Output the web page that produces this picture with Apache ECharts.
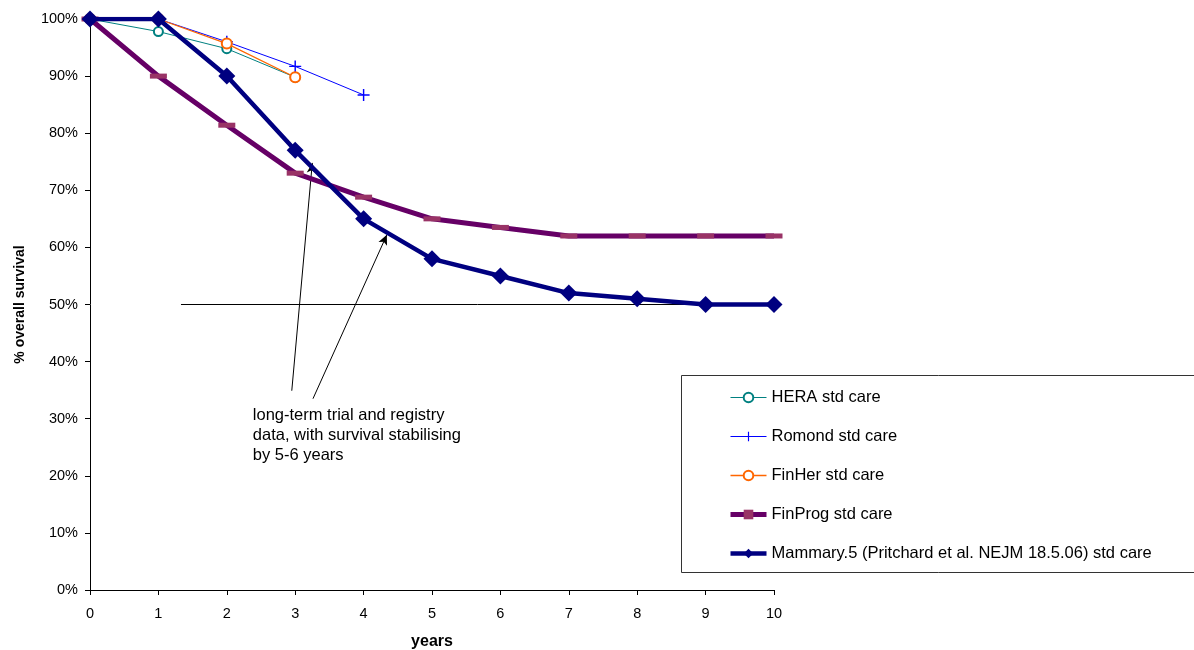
<!DOCTYPE html>
<html>
<head>
<meta charset="utf-8">
<script src="https://cdn.jsdelivr.net/npm/echarts@6/dist/echarts.min.js"></script>
<style>
  html, body { margin: 0; padding: 0; background: #fff; }
  #chart { width: 1194px; height: 650px; }
</style>
</head>
<body>
<div id="chart"></div>
<script>
// Years since diagnosis and overall survival (%) per study arm
const years = [0, 1, 2, 3, 4, 5, 6, 7, 8, 9, 10];
const heraSurvival = [100, 97.8, 94.8, 89.8];
const romondSurvival = [100, 100, 96.0, 91.7, 86.7];
const finHerSurvival = [100, 100, 95.7, 89.8];
const finProgSurvival = [100, 90.0, 81.4, 73.0, 68.8, 65.0, 63.5, 62.0, 62.0, 62.0, 62.0];
const mammarySurvival = [100, 100, 90.0, 77.0, 65.0, 58.0, 55.0, 52.0, 51.0, 50.0, 50.0];
const yTicks = [0, 10, 20, 30, 40, 50, 60, 70, 80, 90, 100];

// 50% reference line and the two annotation arrows (data coordinates)
const refLine = [[1.33, 50], [10, 50]];
const arrows = [
  [[2.95, 34.9], [3.25, 74.8]],
  [[3.26, 33.5], [4.34, 62.2]]
];
const noteLines = ['long-term trial and registry', 'data, with survival stabilising', 'by 5-6 years'];
const noteAnchor = [2.38, 32.4];

const pair = (vals) => vals.map((v, i) => [years[i], v]);
const FONT = '"Liberation Sans", Arial, sans-serif';
const plusPath = 'path://M4.4,0h1.2v4.4h4.4v1.2h-4.4v4.4h-1.2v-4.4h-4.4v-1.2h4.4z';

const seriesNames = ['HERA std care', 'Romond std care', 'FinHer std care', 'FinProg std care',
                     'Mammary.5 (Pritchard et al. NEJM 18.5.06) std care'];
const legendLineWidths = [1, 1, 1.3, 5, 4.5];

const chart = echarts.init(document.getElementById('chart'), null, { renderer: 'canvas' });

const option = {
  animation: false,
  textStyle: { fontFamily: FONT, color: '#000' },
  grid: { left: 90, top: 19, right: 420, bottom: 60, containLabel: false, outerBoundsMode: 'none' },
  legend: {
    orient: 'vertical',
    left: 728,
    top: 389,
    padding: 0,
    itemWidth: 36,
    itemHeight: 12,
    itemGap: 22,
    textStyle: { fontFamily: FONT, fontSize: 16.5, color: '#000' },
    data: seriesNames.map((name, i) => ({ name, lineStyle: { width: legendLineWidths[i] } }))
  },
  xAxis: {
    type: 'value', min: 0, max: 10, interval: 1,
    name: 'years', nameLocation: 'middle', nameGap: 44,
    nameTextStyle: { fontFamily: FONT, fontSize: 16, fontWeight: 'bold', color: '#000' },
    axisLine: { onZero: false, lineStyle: { color: '#000', width: 1 } },
    axisTick: { show: true, length: 5, lineStyle: { color: '#000' } },
    axisLabel: { fontFamily: FONT, fontSize: 14.5, color: '#000', margin: 16 },
    splitLine: { show: false }
  },
  yAxis: {
    type: 'value', min: 0, max: 100, interval: 10,
    name: '% overall survival', nameLocation: 'middle', nameGap: 63, nameRotate: 90,
    nameTextStyle: { fontFamily: FONT, fontSize: 14, fontWeight: 'bold', color: '#000' },
    axisLine: { show: true, lineStyle: { color: '#000', width: 1 } },
    axisTick: { show: true, length: 5, lineStyle: { color: '#000' } },
    axisLabel: {
      fontFamily: FONT, fontSize: 14.5, color: '#000', margin: 12,
      formatter: (v) => (yTicks.includes(v) ? v + '%' : '')
    },
    splitLine: { show: false }
  },
  series: [
    {
      name: 'reference',
      type: 'line',
      data: refLine,
      symbol: 'none',
      lineStyle: { color: '#000', width: 1 },
      silent: true,
      z: 1
    },
    {
      name: seriesNames[0],
      type: 'line',
      data: pair(heraSurvival),
      symbol: 'emptyCircle', symbolSize: 9,
      itemStyle: { color: '#008080', borderWidth: 1 },
      lineStyle: { color: '#008080', width: 1 },
      z: 2
    },
    {
      name: seriesNames[1],
      type: 'line',
      data: pair(romondSurvival),
      symbol: plusPath, symbolSize: 12,
      itemStyle: { color: '#0000ff' },
      lineStyle: { color: '#0000ff', width: 1 },
      z: 3
    },
    {
      name: seriesNames[2],
      type: 'line',
      data: pair(finHerSurvival),
      symbol: 'emptyCircle', symbolSize: 10,
      itemStyle: { color: '#ff6600', borderWidth: 1.3 },
      lineStyle: { color: '#ff6600', width: 1.3 },
      z: 4
    },
    {
      name: seriesNames[3],
      type: 'line',
      data: pair(finProgSurvival),
      symbol: 'rect', symbolSize: [17, 5],
      itemStyle: { color: '#993366' },
      lineStyle: { color: '#660066', width: 5 },
      z: 5
    },
    {
      name: seriesNames[4],
      type: 'line',
      data: pair(mammarySurvival),
      symbol: 'diamond', symbolSize: 17,
      itemStyle: { color: '#000080' },
      lineStyle: { color: '#000080', width: 4.5 },
      z: 6
    },
    {
      name: 'arrows',
      type: 'line',
      data: [],
      silent: true,
      z: 10,
      markLine: {
        silent: true,
        symbol: ['none', 'arrow'],
        symbolSize: [7, 10],
        label: { show: false },
        lineStyle: { color: '#000', width: 1, type: 'solid' },
        data: arrows.map(([a, b]) => [{ coord: a }, { coord: b }])
      }
    }
  ]
};

chart.setOption(option);

// Annotation text and legend frame
const anchor = chart.convertToPixel({ gridIndex: 0 }, noteAnchor);
chart.setOption({
  graphic: [
    {
      type: 'rect',
      shape: { x: 681.5, y: 375.5, width: 600, height: 197 },
      style: { fill: 'none', stroke: '#333', lineWidth: 1 },
      z: 0
    },
    {
      type: 'text',
      x: anchor[0], y: anchor[1],
      style: {
        text: noteLines.join('\n'),
        font: '16.5px ' + FONT,
        fill: '#000',
        lineHeight: 20
      },
      z: 20
    }
  ]
});
</script>
</body>
</html>
